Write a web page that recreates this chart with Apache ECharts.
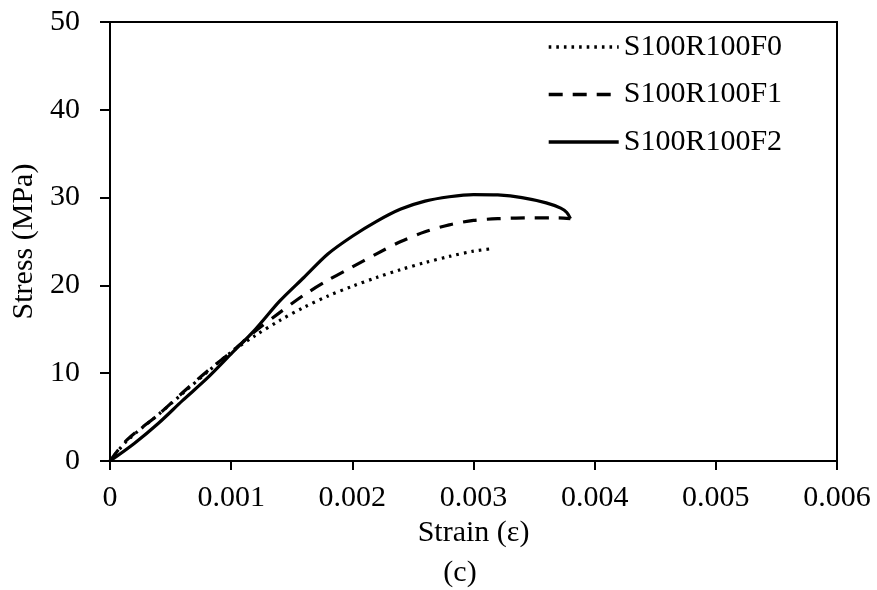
<!DOCTYPE html>
<html>
<head>
<meta charset="utf-8">
<script src="https://cdn.jsdelivr.net/npm/echarts@6/dist/echarts.min.js"></script>
<style>html,body{margin:0;padding:0;background:#fff}#c{width:877px;height:590px}</style>
</head>
<body>
<div id="c"></div>
<script>
const seriesNames = ['S100R100F0', 'S100R100F1', 'S100R100F2'];
const xTicks = [0, 0.001, 0.002, 0.003, 0.004, 0.005, 0.006];
const yTicks = [0, 10, 20, 30, 40, 50];

const f0Strain = [0, 0.00014, 0.0004, 0.0006, 0.0008, 0.001, 0.0012, 0.0014, 0.0016, 0.0018, 0.002, 0.0022, 0.0024, 0.0026, 0.0028, 0.003, 0.00316];
const f0Stress = [0, 2.3, 5.3, 7.7, 10.1, 12.4, 14.3, 16.0, 17.5, 18.8, 19.9, 20.9, 21.8, 22.6, 23.3, 23.9, 24.2];

const f1Strain = [0, 0.00014, 0.0004, 0.0006, 0.0008, 0.001, 0.0012, 0.0014, 0.0016, 0.0018, 0.002, 0.0022, 0.0024, 0.0026, 0.0028, 0.003, 0.0032, 0.0035, 0.0037, 0.0038];
const f1Stress = [0, 2.4, 5.3, 7.8, 10.2, 12.4, 14.8, 16.9, 18.9, 20.6, 22.1, 23.6, 25.0, 26.1, 26.9, 27.4, 27.6, 27.7, 27.7, 27.6];

const f2Strain = [0, 0.0002, 0.0004, 0.0006, 0.0008, 0.001, 0.0012, 0.0014, 0.0016, 0.0018, 0.002, 0.0022, 0.0024, 0.0026, 0.0028, 0.003, 0.0032, 0.0034, 0.0036, 0.00372, 0.00377, 0.0038];
const f2Stress = [0, 2.0, 4.3, 6.9, 9.4, 12.2, 15.0, 18.2, 20.9, 23.6, 25.6, 27.3, 28.7, 29.6, 30.1, 30.35, 30.3, 30.0, 29.4, 28.8, 28.3, 27.6];

const FONT = "'Liberation Serif', 'Times New Roman', serif";
const pairs = (xs, ys) => xs.map((x, i) => [x, ys[i]]);

const chart = echarts.init(document.getElementById('c'), null, {renderer: 'canvas'});
const lineStyles = [
  {type: [2.6, 5], width: 3.2, color: '#000'},
  {type: [14, 10], width: 3.2, color: '#000'},
  {type: 'solid', width: 3.2, color: '#000'}
];
const datas = [pairs(f0Strain, f0Stress), pairs(f1Strain, f1Stress), pairs(f2Strain, f2Stress)];

chart.setOption({
  animation: false,
  backgroundColor: '#fff',
  grid: {left: 110, right: 40, top: 22, bottom: 129, show: true, borderColor: '#000', borderWidth: 2, backgroundColor: 'transparent'},
  title: {text: '(c)', left: 455, top: 553, textAlign: 'center', textStyle: {fontFamily: FONT, fontSize: 30, fontWeight: 'normal', color: '#000', lineHeight: 30}},
  legend: {
    orient: 'vertical', left: 542, top: 27, itemWidth: 70, itemHeight: 20, itemGap: 17.5,
    data: seriesNames,
    itemStyle: {opacity: 0, borderWidth: 0},
    lineStyle: {width: 3.4},
    textStyle: {fontFamily: FONT, fontSize: 30, color: '#000', lineHeight: 30}
  },
  xAxis: {
    type: 'value', min: xTicks[0], max: xTicks[xTicks.length - 1], interval: 0.001,
    name: 'Strain (ε)', nameLocation: 'middle', nameGap: 50,
    nameTextStyle: {fontFamily: FONT, fontSize: 30, color: '#000'},
    axisLine: {show: true, lineStyle: {color: '#000', width: 2}},
    axisTick: {show: true, length: 9, lineStyle: {color: '#000', width: 2}},
    axisLabel: {fontFamily: FONT, fontSize: 30, color: '#000', margin: 22,
      formatter: v => (Math.abs(v) < 1e-12 ? '0' : v.toFixed(3))},
    splitLine: {show: false}
  },
  yAxis: {
    type: 'value', min: yTicks[0], max: yTicks[yTicks.length - 1], interval: 10,
    name: 'Stress (MPa)', nameLocation: 'middle', nameGap: 62,
    nameTextStyle: {fontFamily: FONT, fontSize: 30, color: '#000'},
    axisLine: {show: true, lineStyle: {color: '#000', width: 2}},
    axisTick: {show: true, length: 10, lineStyle: {color: '#000', width: 2}},
    axisLabel: {fontFamily: FONT, fontSize: 30, color: '#000', margin: 30},
    splitLine: {show: false}
  },
  series: seriesNames.map((n, i) => ({
    name: n, type: 'line', data: datas[i], showSymbol: false, symbol: 'none',
    smooth: 0.3, lineStyle: lineStyles[i], itemStyle: {color: '#000'}, z: 2 + i
  }))
});
</script>
</body>
</html>
